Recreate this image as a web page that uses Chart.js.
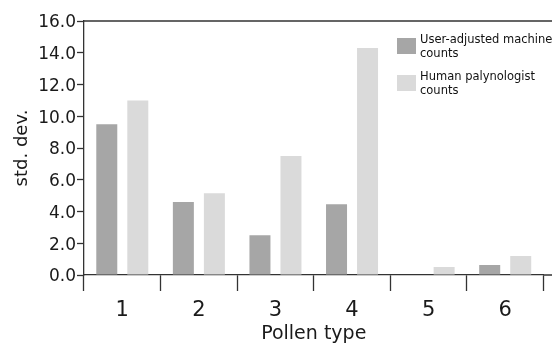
<!DOCTYPE html>
<html><head><meta charset="utf-8">
<script src="https://cdn.jsdelivr.net/npm/chart.js@4.4.1/dist/chart.umd.min.js"></script>
<style>html,body{margin:0;padding:0;background:#fff;overflow:hidden}</style>
</head><body>
<canvas id="c" width="552" height="345"></canvas>
<script>
// ---- data ----
const categories = ['1', '2', '3', '4', '5', '6'];
const machineCounts = [9.5, 4.6, 2.5, 4.45, 0, 0.63];
const humanCounts = [11.0, 5.15, 7.5, 14.3, 0.5, 1.2];
const seriesLines = [['User-adjusted machine', 'counts'], ['Human palynologist', 'counts']];
const yMin = 0, yMax = 16, yStep = 2;
const xTitle = 'Pollen type';
const yTitle = 'std. dev.';

const FONT = 'DejaVu Sans';
const AX = '#333333';

const frameLines = {
  id: 'frameLines',
  afterDraw(chart) {
    const {ctx, chartArea: a, width} = chart;
    ctx.save();
    ctx.strokeStyle = AX;
    ctx.lineWidth = 1.3;
    ctx.beginPath();
    ctx.moveTo(a.left, a.top); ctx.lineTo(width, a.top);
    ctx.moveTo(a.right, a.bottom); ctx.lineTo(width, a.bottom);
    ctx.stroke();
    ctx.restore();
  }
};

const boxLegend = {
  id: 'boxLegend',
  afterDraw(chart) {
    const {ctx} = chart;
    ctx.save();
    ctx.font = '11.5px "' + FONT + '"';
    ctx.textBaseline = 'alphabetic';
    ctx.textAlign = 'left';
    chart.data.datasets.forEach((ds, i) => {
      const x = 397, y = 38 + i * 37;
      ctx.fillStyle = ds.backgroundColor;
      ctx.fillRect(x, y, 19, 16);
      ctx.fillStyle = '#111';
      ds.legendLines.forEach((t, j) => ctx.fillText(t, x + 23, y + 5 + j * 14));
    });
    ctx.restore();
  }
};

new Chart(document.getElementById('c'), {
  type: 'bar',
  data: {
    labels: categories,
    datasets: [
      {label: seriesLines[0].join(' '), legendLines: seriesLines[0], data: machineCounts,
       backgroundColor: '#a6a6a6', categoryPercentage: 0.81, barPercentage: 0.677},
      {label: seriesLines[1].join(' '), legendLines: seriesLines[1], data: humanCounts,
       backgroundColor: '#dadada', categoryPercentage: 0.81, barPercentage: 0.677}
    ]
  },
  options: {
    responsive: false,
    animation: false,
    devicePixelRatio: 1,
    layout: {padding: {left: 0, top: 21, right: 8.5, bottom: 0}},
    plugins: {legend: {display: false}, tooltip: {enabled: false}},
    scales: {
      x: {
        type: 'category',
        offset: true,
        grid: {offset: true, drawOnChartArea: false, drawTicks: true, tickLength: 16, tickColor: AX, tickWidth: 1.3},
        border: {display: true, color: AX, width: 1.3},
        ticks: {font: {family: FONT, size: 21}, color: '#1a1a1a', padding: 7, maxRotation: 0},
        title: {display: true, text: xTitle, font: {family: FONT, size: 19}, color: '#1a1a1a', padding: {top: 0, bottom: 0}},
        afterFit: s => { s.height = 70; }
      },
      y: {
        min: yMin, max: yMax,
        grid: {drawOnChartArea: false, drawTicks: true, tickLength: 7, tickColor: AX, tickWidth: 1.3},
        border: {display: true, color: AX, width: 1.3},
        ticks: {stepSize: yStep, font: {family: FONT, size: 17}, color: '#1a1a1a', padding: 1, labelOffset: 2,
                callback: v => Number(v).toFixed(1)},
        title: {display: true, text: yTitle, font: {family: FONT, size: 18}, color: '#1a1a1a', padding: {top: 12, bottom: 0}},
        afterFit: s => { s.width = 84; }
      }
    }
  },
  plugins: [frameLines, boxLegend]
});
</script>
</body></html>
